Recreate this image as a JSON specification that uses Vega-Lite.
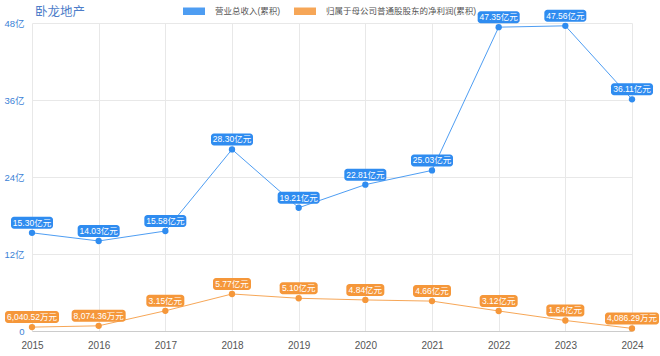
{
  "$schema": "https://vega.github.io/schema/vega-lite/v6.json",
  "width": 600,
  "height": 308,
  "autosize": {"type": "none"},
  "padding": {"left": 32, "top": 23, "right": 28, "bottom": 25},
  "background": "white",
  "config": {
    "font": "Liberation Sans, Noto Sans CJK SC",
    "view": {"stroke": null}
  },
  "title": {
    "text": "卧龙地产",
    "anchor": "start",
    "frame": "group",
    "orient": "top",
    "dx": 3,
    "dy": 29,
    "offset": 7,
    "baseline": "alphabetic",
    "font": "Noto Sans CJK SC",
    "fontSize": 12.5,
    "fontWeight": "normal",
    "color": "#4D7DC9"
  },
  "data": {
    "values": [
      {"year": "2015", "series": "营业总收入(累积)", "value": 15.30, "label": "15.30亿元"},
      {"year": "2016", "series": "营业总收入(累积)", "value": 14.03, "label": "14.03亿元"},
      {"year": "2017", "series": "营业总收入(累积)", "value": 15.58, "label": "15.58亿元"},
      {"year": "2018", "series": "营业总收入(累积)", "value": 28.30, "label": "28.30亿元"},
      {"year": "2019", "series": "营业总收入(累积)", "value": 19.21, "label": "19.21亿元"},
      {"year": "2020", "series": "营业总收入(累积)", "value": 22.81, "label": "22.81亿元"},
      {"year": "2021", "series": "营业总收入(累积)", "value": 25.03, "label": "25.03亿元"},
      {"year": "2022", "series": "营业总收入(累积)", "value": 47.35, "label": "47.35亿元"},
      {"year": "2023", "series": "营业总收入(累积)", "value": 47.56, "label": "47.56亿元"},
      {"year": "2024", "series": "营业总收入(累积)", "value": 36.11, "label": "36.11亿元"},
      {"year": "2015", "series": "归属于母公司普通股股东的净利润(累积)", "value": 0.604052, "label": "6,040.52万元"},
      {"year": "2016", "series": "归属于母公司普通股股东的净利润(累积)", "value": 0.807436, "label": "8,074.36万元"},
      {"year": "2017", "series": "归属于母公司普通股股东的净利润(累积)", "value": 3.15, "label": "3.15亿元"},
      {"year": "2018", "series": "归属于母公司普通股股东的净利润(累积)", "value": 5.77, "label": "5.77亿元"},
      {"year": "2019", "series": "归属于母公司普通股股东的净利润(累积)", "value": 5.10, "label": "5.10亿元"},
      {"year": "2020", "series": "归属于母公司普通股股东的净利润(累积)", "value": 4.84, "label": "4.84亿元"},
      {"year": "2021", "series": "归属于母公司普通股股东的净利润(累积)", "value": 4.66, "label": "4.66亿元"},
      {"year": "2022", "series": "归属于母公司普通股股东的净利润(累积)", "value": 3.12, "label": "3.12亿元"},
      {"year": "2023", "series": "归属于母公司普通股股东的净利润(累积)", "value": 1.64, "label": "1.64亿元"},
      {"year": "2024", "series": "归属于母公司普通股股东的净利润(累积)", "value": 0.408629, "label": "4,086.29万元"}
    ]
  },
  "transform": [
    {"calculate": "length(datum.label) * 4.0 + 14", "as": "boxw"}
  ],
  "encoding": {
    "x": {
      "field": "year",
      "type": "ordinal",
      "scale": {"type": "point", "padding": 0},
      "axis": {
        "title": null,
        "labelAngle": 0,
        "labelColor": "#555555",
        "labelFontSize": 10,
        "labelPadding": 9,
        "ticks": false,
        "domainColor": "#cccccc",
        "grid": true,
        "gridColor": "#e8e8e8"
      }
    },
    "y": {
      "field": "value",
      "type": "quantitative",
      "scale": {"domain": [0, 48], "nice": false},
      "axis": {
        "title": null,
        "values": [0, 12, 24, 36, 48],
        "labelExpr": "datum.value == 0 ? '0' : datum.value + '亿'",
        "labelColor": "#3C7FD6",
        "labelFontSize": 9.5,
        "labelPadding": 8,
        "ticks": false,
        "domain": false,
        "grid": true,
        "gridColor": "#e8e8e8"
      }
    },
    "color": {
      "field": "series",
      "type": "nominal",
      "scale": {
        "domain": ["营业总收入(累积)", "归属于母公司普通股股东的净利润(累积)"],
        "range": ["#2F8CF0", "#F5973A"]
      },
      "legend": {
        "title": null,
        "orient": "none",
        "direction": "horizontal",
        "legendX": 157,
        "legendY": -17,
        "symbolType": "M-2.2,-0.75h4.4v1.5h-4.4z",
        "symbolSize": 100,
        "symbolStrokeWidth": 0,
        "labelOffset": 16,
        "columnPadding": 13,
        "labelFontSize": 8.5,
        "labelColor": "#555555",
        "labelLimit": 300,
        "encode": {
          "symbols": {
            "update": {
              "fill": {"scale": "color", "field": "value"},
              "stroke": {"value": "transparent"},
              "opacity": {"value": 1}
            }
          }
        }
      }
    }
  },
  "layer": [
    {"mark": {"type": "line", "strokeWidth": 1, "opacity": 0.85}},
    {"mark": {"type": "point", "filled": true, "size": 40, "opacity": 1}},
    {
      "mark": {"type": "bar", "yOffset": -4, "y2Offset": -16, "cornerRadius": 3, "opacity": 1},
      "encoding": {
        "y2": {"field": "value"},
        "size": {"field": "boxw", "type": "quantitative", "scale": null}
      }
    },
    {
      "mark": {"type": "text", "yOffset": -10, "baseline": "middle", "align": "center", "fontSize": 8.5, "color": "white"},
      "encoding": {
        "text": {"field": "label"},
        "color": {"value": "white"}
      }
    }
  ]
}
